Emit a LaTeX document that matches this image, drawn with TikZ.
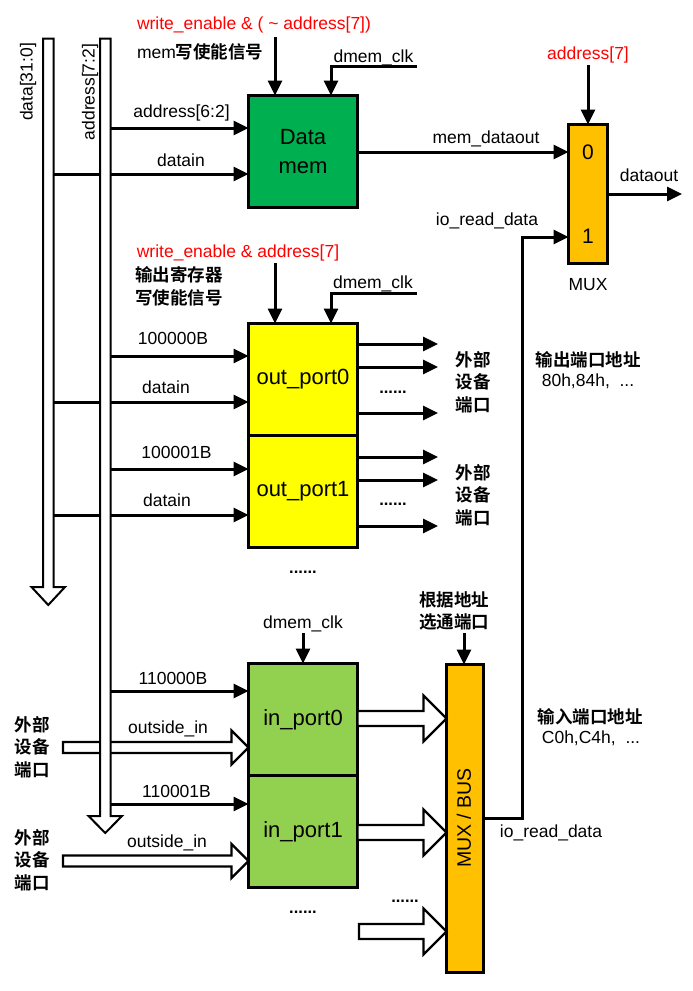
\documentclass[tikz,border=0pt]{standalone}
\usepackage{fontspec}
\setmainfont{Liberation Sans}
\newfontfamily\cjk{Noto Sans CJK SC}[BoldFont={Noto Sans CJK SC Bold}]
\usetikzlibrary{arrows.meta,calc}
\definecolor{memgreen}{HTML}{00B050}
\definecolor{outyellow}{HTML}{FFFF00}
\definecolor{ingreen}{HTML}{92D050}
\definecolor{muxorange}{HTML}{FFC000}
\definecolor{sigred}{HTML}{FF0000}
% hollow block arrow: start, tip, shaft half-width, head half-width, head length
\newcommand\fatarrow[5]{\draw[fat] ($(#1)+(0,#3)$) -- ($(#2)+(-#5,#3)$) -- ($(#2)+(-#5,#4)$) -- (#2) -- ($(#2)+(-#5,-#4)$) -- ($(#2)+(-#5,-#3)$) -- ($(#1)+(0,-#3)$) -- cycle;}
\newcommand\hz{\cjk\bfseries}
\begin{document}
\begin{tikzpicture}[x=1pt,y=-1pt,
  every node/.style={inner sep=0pt, outer sep=0pt},
  txt/.style={font=\fontsize{17.5}{22}\selectfont, anchor=base},
  cjktxt/.style={font=\fontsize{17.5}{22.5}\selectfont\hz, align=center},
  dots/.style={font=\fontsize{16.5}{20}\selectfont\bfseries, anchor=base},
  redtxt/.style={text=sigred},
  block/.style={draw, line width=3.2pt, minimum width=109pt, minimum height=112pt,
    font=\fontsize{22}{29}\selectfont, align=center},
  muxbox/.style={draw, line width=3.2pt, fill=muxorange},
  wire/.style={line width=3pt},
  sig/.style={wire, -{Triangle[length=15pt,width=14pt]}},
  bus/.style={draw, line width=2pt, fill=white, line join=miter},
  fat/.style={draw, line width=2.4pt, fill=white, line join=miter},
]
\useasboundingbox (0,0) rectangle (693,991);

% bus positions
\coordinate (dbus) at (53.5,0);
\coordinate (abus) at (110.5,0);

% ---------- blocks ----------
\node[block, fill=memgreen] (dmem) at (303,151.5) {Data\\mem};
\node[block, fill=outyellow] (op0) at (303,379.5) {out\_port0};
\node[block, fill=outyellow] (op1) at (303,491.5) {out\_port1};
\node[block, fill=ingreen] (ip0) at (303,719.5) {in\_port0};
\node[block, fill=ingreen] (ip1) at (303,831.5) {in\_port1};
\node[muxbox, minimum width=39pt, minimum height=139pt] (mux) at (588,194) {};
\node[muxbox, minimum width=37pt, minimum height=308pt] (mbus) at (465,818.5) {};
\node[rotate=90, font=\fontsize{19.5}{20}\selectfont] (mbuslbl) at (464,818) {MUX / BUS};
\node[font=\fontsize{21}{22}\selectfont, anchor=base] (mux0) at (588,159) {0};
\node[font=\fontsize{21}{22}\selectfont, anchor=base] (mux1) at (588,243) {1};

% ---------- external inputs (under the address bus) ----------
\coordinate (ext0) at (63,747.5);
\coordinate (f0e) at (ip0.west |- ext0);
\fatarrow{ext0}{f0e}{5.5}{17}{17}
\coordinate (ext1) at (63,861);
\coordinate (f1e) at (ip1.west |- ext1);
\fatarrow{ext1}{f1e}{5.5}{17}{17}

% ---------- wires leaving the buses ----------
\draw[sig] (abus |- 0,128) -- (dmem.west |- 0,128);
\draw[sig] (dbus |- 0,174) -- (dmem.west |- 0,174);
\draw[sig] (abus |- 0,356) -- (op0.west |- 0,356);
\draw[sig] (dbus |- 0,402) -- (op0.west |- 0,402);
\draw[sig] (abus |- 0,469) -- (op1.west |- 0,469);
\draw[sig] (dbus |- 0,515) -- (op1.west |- 0,515);
\draw[sig] (abus |- 0,691) -- (ip0.west |- 0,691);
\draw[sig] (abus |- 0,804) -- (ip1.west |- 0,804);

% ---------- buses ----------
\draw[bus] (43,38.5) -- (53.5,38.5) -- (53.5,587) -- (65,587) -- (48.25,605)
  -- (31.5,587) -- (43,587) -- cycle;
\draw[bus] (100,38.5) -- (110.5,38.5) -- (110.5,816) -- (122,816) -- (105.25,833)
  -- (88.5,816) -- (100,816) -- cycle;
\node[txt, anchor=center, rotate=90] (dbuslbl) at (28,82) {data[31:0]};
\node[txt, anchor=center, rotate=90] (abuslbl) at (90,92) {address[7:2]};

% ---------- data memory ----------
\coordinate (we1) at (275,37);
\draw[sig] (we1) -- (we1 |- dmem.north);
\coordinate (clk1) at (417,66);
\draw[sig] (clk1) -| ([xshift=28pt]dmem.north);
\draw[sig] (dmem.east |- 0,152) -- (mux.west |- 0,152);
\coordinate (a7) at (588,65);
\draw[sig] (a7) -- (mux.north);
\coordinate (dout) at (682,194);
\draw[sig] (mux.east) -- (dout);
\coordinate (iox) at (522,0);
\draw[sig] (mbus.east |- 0,818) -| (iox |- 0,237) -- (mux.west |- 0,237);

\node[txt, redtxt] (we1lbl) at (254,29) {write\_enable \& ( \textasciitilde\ address[7])};
\node[txt, anchor=base west] (memwe) at (137,58) {mem{\hz 写使能信号}};
\node[txt] (clk1lbl) at (373.5,62) {dmem\_clk};
\node[txt] (a62lbl) at (181.5,117) {address[6:2]};
\node[txt] (din0lbl) at (181,166) {datain};
\node[txt, redtxt] (a7lbl) at (588,59) {address[7]};
\node[txt] (moutlbl) at (486,143) {mem\_dataout};
\node[txt] (doutlbl) at (649,181) {dataout};
\node[txt] (io1lbl) at (487,225) {io\_read\_data};
\node[txt] (muxlbl) at (588,290) {MUX};

% ---------- output ports ----------
\coordinate (we2) at (275,263);
\draw[sig] (we2) -- (we2 |- op0.north);
\coordinate (clk2) at (417,293);
\draw[sig] (clk2) -| ([xshift=28pt]op0.north);
\coordinate (ox) at (438,0);
\foreach \y in {344,367,413} \draw[sig] (op0.east |- 0,\y) -- (ox |- 0,\y);
\foreach \y in {457,480,526} \draw[sig] (op1.east |- 0,\y) -- (ox |- 0,\y);

\node[txt, redtxt] (we2lbl) at (238,257) {write\_enable \& address[7]};
\node[cjktxt, align=left, anchor=west] (outwe) at (135,286.5) {输出寄存器\\写使能信号};
\node[txt] (clk2lbl) at (373,288) {dmem\_clk};
\node[txt] (b100000) at (173,344) {100000B};
\node[txt] (din1lbl) at (166,393) {datain};
\node[txt] (b100001) at (176.5,458) {100001B};
\node[txt] (din2lbl) at (167,506) {datain};
\node[dots] (dots0) at (393,393) {......};
\node[dots] (dots1) at (393,505) {......};
\node[cjktxt] (dev0) at (473,382) {外部\\设备\\端口};
\node[cjktxt] (dev1) at (473,495) {外部\\设备\\端口};
\node[txt, font=\fontsize{17.5}{22}\selectfont\hz] (outaddr) at (588,366) {输出端口地址};
\node[txt] (outaddrv) at (588,386) {80h,84h,\ \ ...};
\node[dots] (dots2) at (303,573) {......};

% ---------- input ports ----------
\coordinate (clk3) at (303,633);
\draw[sig] (clk3) -- (ip0.north);
\coordinate (sel) at (464,633);
\draw[sig] (sel) -- (sel |- mbus.north);
\coordinate (g0s) at (ip0.east |- 0,718.5);
\coordinate (g0e) at (mbus.west |- g0s);
\fatarrow{g0s}{g0e}{7.5}{23}{23}
\coordinate (g1s) at (ip1.east |- 0,832.5);
\coordinate (g1e) at (mbus.west |- g1s);
\fatarrow{g1s}{g1e}{7.5}{23}{23}
\coordinate (g2s) at (359,931.5);
\coordinate (g2e) at (mbus.west |- g2s);
\fatarrow{g2s}{g2e}{7.5}{23}{23}

\node[txt] (clk3lbl) at (303,628) {dmem\_clk};
\node[cjktxt] (sellbl) at (454,611) {根据地址\\选通端口};
\node[txt] (b110000) at (173,684) {110000B};
\node[txt] (oin0) at (168,733) {outside\_in};
\node[txt] (b110001) at (176.5,797) {110001B};
\node[txt] (oin1) at (167,847) {outside\_in};
\node[cjktxt] (ext0lbl) at (32,747) {外部\\设备\\端口};
\node[cjktxt] (ext1lbl) at (32,860) {外部\\设备\\端口};
\node[dots] (dots3) at (303,913) {......};
\node[dots] (dots4) at (405,902) {......};
\node[txt, font=\fontsize{17.5}{22}\selectfont\hz] (inaddr) at (590,723) {输入端口地址};
\node[txt] (inaddrv) at (591,743) {C0h,C4h,\ \ ...};
\node[txt] (io2lbl) at (551,837) {io\_read\_data};
\end{tikzpicture}
\end{document}
